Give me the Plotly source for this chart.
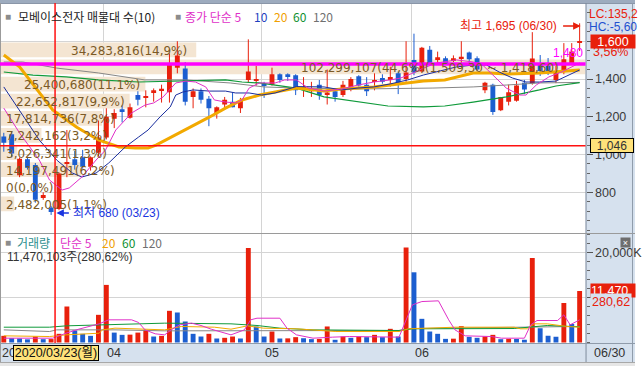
import datetime
import plotly.graph_objects as go

W, H = 642, 366

# ---------------- data ----------------
dates = ["03/13", "03/16", "03/17", "03/18", "03/19", "03/20", "03/23", "03/24", "03/25", "03/26", "03/27", "03/30", "03/31",
         "04/01", "04/02", "04/03", "04/06", "04/07", "04/08", "04/09", "04/10", "04/13", "04/14", "04/16", "04/17", "04/20",
         "04/21", "04/22", "04/23", "04/24", "04/27", "04/28", "04/29",
         "05/04", "05/06", "05/07", "05/08", "05/11", "05/12", "05/13", "05/14", "05/15", "05/18", "05/19", "05/20", "05/21",
         "05/22", "05/25", "05/26", "05/27", "05/28", "05/29",
         "06/01", "06/02", "06/03", "06/04", "06/05", "06/08", "06/09", "06/10", "06/11", "06/12", "06/15", "06/16", "06/17",
         "06/18", "06/19", "06/22", "06/23", "06/24", "06/25", "06/26", "06/29", "06/30"]
year = 2020

open_ = [1095, 1108, 890, 975, 945, 775, 720, 712, 950, 975, 985, 935, 1010,
         1090, 1190, 1240, 1195, 1315, 1300, 1330, 1340, 1330, 1460, 1455, 1305, 1335, 1295, 1220, 1265, 1280, 1245, 1395, 1390,
         1375, 1370, 1425, 1425, 1420, 1350, 1335, 1370, 1320, 1335, 1315, 1345, 1415, 1370, 1385, 1405, 1395, 1430, 1400,
         1500, 1440, 1555, 1500, 1510, 1500, 1510, 1540, 1510, 1340, 1370, 1235, 1280, 1285, 1380, 1378, 1475, 1470, 1395, 1445, 1485, 1595]
high = [1115, 1118, 985, 985, 955, 800, 728, 905, 1130, 1020, 1025, 990, 1180,
        1245, 1240, 1260, 1270, 1335, 1340, 1350, 1370, 1535, 1600, 1490, 1350, 1350, 1310, 1255, 1305, 1330, 1300, 1610, 1470,
        1385, 1460, 1430, 1430, 1425, 1410, 1385, 1395, 1450, 1340, 1390, 1410, 1420, 1410, 1430, 1425, 1465, 1440, 1600,
        1640, 1570, 1575, 1545, 1520, 1525, 1600, 1545, 1520, 1385, 1375, 1305, 1370, 1390, 1395, 1648, 1527, 1511, 1469, 1590, 1590, 1695]
low = [1015, 985, 880, 920, 745, 760, 680, 705, 880, 920, 925, 915, 990,
       1080, 1140, 1170, 1190, 1260, 1250, 1280, 1275, 1275, 1430, 1260, 1245, 1270, 1150, 1190, 1245, 1250, 1220, 1380, 1365,
       1300, 1365, 1380, 1390, 1315, 1305, 1305, 1290, 1265, 1280, 1305, 1335, 1360, 1310, 1340, 1375, 1360, 1320, 1385,
       1420, 1435, 1470, 1485, 1475, 1490, 1485, 1485, 1440, 1325, 1210, 1230, 1260, 1280, 1320, 1370, 1416, 1421, 1378, 1425, 1480, 1548]
close = [1062, 1005, 978, 930, 760, 785, 695, 900, 960, 945, 935, 985, 1090,
         1200, 1220, 1225, 1250, 1290, 1305, 1340, 1348, 1485, 1525, 1280, 1335, 1290, 1245, 1250, 1290, 1250, 1285, 1440, 1395,
         1365, 1425, 1395, 1410, 1340, 1355, 1350, 1315, 1328, 1305, 1370, 1400, 1365, 1335, 1395, 1385, 1410, 1380, 1435,
         1435, 1565, 1480, 1515, 1485, 1510, 1518, 1505, 1450, 1380, 1225, 1305, 1330, 1365, 1345, 1508, 1442, 1442, 1432, 1505, 1545, 1600]
# volume in thousand shares
volume_k = [1480, 960, 900, 700, 1330, 740, 760, 1930, 8000, 2670, 1930, 1480, 6150, 12800, 2200, 1700, 1750, 2200, 2800, 1330,
            1480, 7040, 6670, 4670, 1930, 1330, 1930, 890, 1040, 1330, 890, 21000, 3560, 1330, 2440, 890, 920, 1190, 950, 750,
            800, 3560, 600, 1330, 1040, 1330, 1190, 1700, 1190, 3040, 1330, 21100, 15600, 5260, 2440, 1930, 810, 850, 3630, 1260,
            1040, 1330, 1700, 740, 810, 780, 600, 18800, 3190, 1480, 1260, 8800, 4087.4, 11470.103]

# price moving averages (x = candle position)
ma5_x = [0, 2, 4.5, 5.8, 7.4, 8.3, 9.9, 11.7, 12.9, 14.2, 16.2, 17.9, 19, 20.2, 21.8, 23.1, 24.3, 25.6, 26.7, 28.1, 29.4, 30.2,
         31.1, 32.4, 34.4, 35.6, 37.1, 38.6, 40.6, 42.8, 44.9, 46.9, 49, 50.3, 51.9, 53.2, 54.9, 55.9, 57.4, 59.5, 60.7, 62,
         63.7, 65.4, 66.2, 67.5, 69.1, 70.7, 72, 73]
ma5 = [1246, 1114, 971, 865, 812, 823, 881, 971, 1024, 1130, 1220, 1262, 1273, 1305, 1379, 1389, 1384, 1358, 1289, 1278, 1273,
       1289, 1352, 1379, 1379, 1395, 1395, 1352, 1336, 1347, 1368, 1384, 1395, 1405, 1432, 1458, 1485, 1490, 1501, 1490, 1474,
       1421, 1352, 1315, 1315, 1368, 1411, 1437, 1464, 1485]
ma10_x = [0, 2, 4.5, 6.7, 8.7, 9.9, 11.7, 13.3, 15.4, 17.1, 18.3, 19.8, 21.1, 21.8, 22.7, 24, 26.1, 28.1, 29.4, 31.1, 32.7,
          34.4, 37.1, 40.6, 42.8, 44.9, 46.9, 49, 51.2, 53.2, 55.9, 57.4, 59.5, 61.2, 62.8, 64.5, 66.2, 67.9, 70, 71.2, 72.5, 73]
ma10 = [1358, 1236, 1077, 971, 902, 881, 902, 955, 1040, 1093, 1130, 1199, 1252, 1315, 1331, 1342, 1336, 1336, 1326, 1326, 1315,
        1326, 1360, 1358, 1342, 1352, 1358, 1374, 1395, 1421, 1448, 1464, 1474, 1474, 1437, 1405, 1384, 1384, 1389, 1411, 1437, 1448]
ma20_x = [0, 2, 6.2, 9.2, 12, 14.6, 16.7, 18.3, 19.3, 21.8, 24, 26.1, 28.1, 30.2, 32.4, 34.4, 37.1, 40.6, 42.8, 46.9, 49, 51.2,
          53.2, 55.9, 57.4, 59.5, 61.6, 63.7, 67.9, 70, 73]
ma20 = [1527, 1464, 1236, 1146, 1077, 1040, 1035, 1035, 1050, 1104, 1151, 1199, 1246, 1289, 1315, 1331, 1352, 1336, 1347, 1358,
        1368, 1379, 1389, 1395, 1411, 1432, 1432, 1426, 1432, 1437, 1448]
ma60_x = [0, 3.7, 7.9, 12, 17.1, 21.8, 28.1, 30.2, 32.4, 34.4, 37.1, 40.6, 44.9, 48.7, 53.2, 55.9, 59.5, 63.7, 67.9, 70, 73]
ma60 = [1437, 1421, 1411, 1395, 1384, 1389, 1395, 1384, 1379, 1368, 1352, 1305, 1278, 1257, 1252, 1257, 1278, 1305, 1342, 1363, 1381]
ma120_x = [0, 2.4, 6.7, 12, 17.9, 23, 28.7, 33, 37.1, 44.9, 54.4, 59.5, 63.7, 67.9, 73]
ma120 = [1490, 1490, 1458, 1432, 1395, 1395, 1379, 1358, 1352, 1347, 1352, 1358, 1368, 1379, 1382]

# volume moving averages (thousand shares)
vma5_x = [0, 6.2, 7.9, 9.5, 12.1, 13.3, 16.2, 17.1, 17.9, 19.2, 20.4, 21.2, 22.3, 23.8, 25, 26.3, 28.8, 30.5, 31.3, 32.1, 35,
          35.9, 37.1, 39.2, 41.7, 43.8, 50.1, 50.5, 51.8, 53, 55.1, 56.4, 57.2, 58.5, 61.8, 63.1, 66, 66.8, 67.6, 70.2, 71, 71.8, 73]
vma5 = [960, 960, 2070, 2960, 4150, 5040, 5040, 4440, 2810, 1930, 1700, 2810, 3930, 4300, 3780, 2960, 1700, 2810, 5040, 5400,
        5400, 3190, 1700, 960, 1190, 1330, 1190, 2810, 8370, 9100, 9260, 5040, 2810, 1480, 1330, 960, 960, 3930, 4890, 4890,
        6150, 3930, 5040]
vma20_x = [0, 5.8, 7.9, 12.1, 12.5, 14.1, 20.4, 22.5, 26.7, 28.8, 30.9, 32.9, 37.1, 39.2, 42.1, 50.1, 51.3, 57.2, 64.7, 65.5,
           66.4, 67.2, 68.9, 71.4, 73]
vma20 = [1480, 1330, 1700, 2070, 2810, 3190, 2810, 3560, 3400, 2960, 3700, 3190, 3040, 2810, 2440, 2440, 3040, 3400, 3400, 3040,
         3040, 4150, 4150, 3560, 3400]
vma60_x = [0, 5.8, 7.9, 12.9, 20.4, 28.8, 32.1, 35, 39.2, 50.1, 51.8, 64.7, 68.9, 73]
vma60 = [3400, 3400, 3700, 3930, 4300, 4150, 3780, 3190, 2810, 2670, 3040, 3110, 3780, 3480]
vma120_x = [0, 5.8, 6.7, 14.1, 20.4, 39.2, 50.1, 51.8, 68.9, 73]
vma120 = [2810, 2440, 2810, 2810, 2590, 2590, 2670, 3110, 3400, 3560]

# volume profile (매물대), top band first
band_volume = [34283816, 102299107, 25400680, 22652817, 17814736, 7242162, 3026341, 14197491, 0, 2482005]
band_top, band_bottom = 1600.0, 693.0

user_hline = 1480
ref_hline = 1046
cursor_date = "03/23"

# ---------------- styling ----------------
RED = "#E8200C"
BLUE = "#1C5ED0"
C_MA5 = "#E030C8"
C_MA10 = "#1A2E9E"
C_MA20 = "#F2A900"
C_MA60 = "#0F9A3A"
C_MA120 = "#868686"
GRID = "#D4D4D4"
AXBG = "#D6E1EE"
BEIGE = "#F4E5D2"
NUM = "Liberation Sans, Noto Sans CJK KR, sans-serif"
KR = "Noto Sans CJK KR, sans-serif"
BANDF = "DejaVu Sans, sans-serif"

PLOT_R = 592
PRICE_TOP, PRICE_BOT = 3, 233
VOL_TOP, VOL_BOT = 234, 343
price_range = [584.4, 1802.5]
vol_range = [-111, 24111]
x_range = [-0.48, 73.75]


def fx(p):
    return p / W


def fy(p):
    return 1 - p / H


n = len(dates)
idx = list(range(n))

fig = go.Figure()

# volume profile bands (main subplot, drawn below candles)
step = (band_top - band_bottom) / len(band_volume)
band_center = [band_top - step * (k + 0.5) for k in range(len(band_volume))]
fig.add_trace(go.Bar(x=band_volume, y=band_center, orientation="h", width=step * 0.86, base=0,
                     marker=dict(color=BEIGE, line=dict(width=0)), xaxis="x", yaxis="y", hoverinfo="skip"))

# candles
up = [i for i in idx if close[i] >= open_[i]]
dn = [i for i in idx if close[i] < open_[i]]


def wick(ids, color):
    xs, ys = [], []
    for i in ids:
        xs += [i, i, None]
        ys += [low[i], high[i], None]
    return go.Scatter(x=xs, y=ys, mode="lines", line=dict(color=color, width=1), xaxis="x2", yaxis="y",
                      hoverinfo="skip")


def body(ids, color):
    return go.Bar(x=ids, y=[max(abs(close[i] - open_[i]), 5) for i in ids],
                  base=[min(open_[i], close[i]) for i in ids], width=0.62,
                  marker=dict(color=color, line=dict(width=0)), xaxis="x2", yaxis="y", hoverinfo="skip")


fig.add_trace(body(up, RED))
fig.add_trace(body(dn, BLUE))
fig.add_trace(wick(up, RED))
fig.add_trace(wick(dn, BLUE))

for xs, ys, col, w in [(ma120_x, ma120, C_MA120, 1), (ma60_x, ma60, C_MA60, 1.2), (ma20_x, ma20, C_MA20, 3),
                       (ma10_x, ma10, C_MA10, 1), (ma5_x, ma5, C_MA5, 1)]:
    fig.add_trace(go.Scatter(x=xs, y=ys, mode="lines", line=dict(color=col, width=w), xaxis="x2", yaxis="y",
                             hoverinfo="skip"))

# volume
vcol = [RED if (i == 0 or volume_k[i] >= volume_k[i - 1]) else BLUE for i in idx]
fig.add_trace(go.Bar(x=idx, y=volume_k, width=0.62, marker=dict(color=vcol, line=dict(width=0)),
                     xaxis="x3", yaxis="y2", hoverinfo="skip"))
for xs, ys, col in [(vma120_x, vma120, C_MA120), (vma60_x, vma60, C_MA60), (vma20_x, vma20, C_MA20),
                    (vma5_x, vma5, C_MA5)]:
    fig.add_trace(go.Scatter(x=xs, y=ys, mode="lines", line=dict(color=col, width=1), xaxis="x3", yaxis="y2",
                             hoverinfo="skip"))

# month boundaries
month_starts = [i for i in idx if i > 0 and dates[i][:2] != dates[i - 1][:2]]
month_grid = [m - 0.3 for m in month_starts]

# ---------------- shapes ----------------
shapes = []


def rect(x0, y0, x1, y1, color, layer="below"):
    shapes.append(dict(type="rect", xref="paper", yref="paper", x0=fx(x0), x1=fx(x1), y0=fy(y1), y1=fy(y0),
                       fillcolor=color, line=dict(width=0), layer=layer))


def pline(x0, y0, x1, y1, color, width=1, layer="above"):
    shapes.append(dict(type="line", xref="paper", yref="paper", x0=fx(x0), x1=fx(x1), y0=fy(y0), y1=fy(y1),
                       line=dict(color=color, width=width), layer=layer))


rect(0, 0, W, 3, "#9DABBE")
rect(PLOT_R, 3, W, VOL_BOT, AXBG)
rect(0, VOL_BOT, W, 362, AXBG)
rect(0, 362, W, H, "#E6E6E6")
pline(0, 362.5, W, 362.5, "#A8A8A8")
pline(0, 3.5, W, 3.5, "#8A96A8")
pline(PLOT_R + 0.5, 3, PLOT_R + 0.5, 362, "#7F8C9C")
pline(0, 233.5, W, 233.5, "#9A9A9A")
pline(0, VOL_BOT + 0.5, W, VOL_BOT + 0.5, "#8F9BAA")
pline(0.5, 3, 0.5, 362, "#9A9A9A")
pline(W - 2.5, 3, W - 2.5, 362, "#8F9BAA")

# horizontal reference lines
shapes.append(dict(type="line", xref="paper", yref="y", x0=0, x1=fx(PLOT_R), y0=ref_hline, y1=ref_hline,
                   line=dict(color="#FF1010", width=1.5)))
shapes.append(dict(type="line", xref="paper", yref="y", x0=0, x1=fx(PLOT_R), y0=user_hline, y1=user_hline,
                   line=dict(color="#FF00FF", width=3.5)))
# cursor line
ci = dates.index(cursor_date)
shapes.append(dict(type="line", xref="x2", yref="paper", x0=ci + 0.5, x1=ci + 0.5, y0=fy(VOL_BOT), y1=fy(PRICE_TOP),
                   line=dict(color="#FF1010", width=1.5)))

# ---------------- annotations ----------------
ann = []


def A(x, y, text, color="#333333", size=12, family=NUM, xanchor="left", yanchor="middle", **kw):
    d = dict(x=fx(x), y=fy(y), xref="paper", yref="paper", text=text, showarrow=False,
             font=dict(color=color, size=size, family=family), xanchor=xanchor, yanchor=yanchor)
    d.update(kw)
    ann.append(d)


def comma_dec(v, nd):
    return f"{v:,.{nd}f}".replace(".", "#").replace("#", ",")


# legends
A(3, 16, "■", "#8C8C8C", 10)
A(16, 16, "모베이스전자 매물대 수(10)", "#222222", 12, KR)
A(175, 16, "■", "#8C8C8C", 10)
A(185, 16, "종가 단순 5", C_MA5, 12, KR)
A(255, 16, "10", "#1F3FBF", 12, KR)
A(275, 16, "20", "#F0A000", 12, KR)
A(294, 16, "60", "#109030", 12, KR)
A(314, 16, "120", "#707070", 12, KR)

A(3, 243, "■", "#8C8C8C", 10)
A(15, 243, "거래량", "#2D8F8F", 12, KR)
A(59, 243, "단순 5", C_MA5, 12, KR)
A(101, 243, "20", "#F0A000", 12, KR)
A(121, 243, "60", "#109030", 12, KR)
A(142, 243, "120", "#707070", 12, KR)
last_vol_shares = round(volume_k[-1] * 1000)
vol_ratio = volume_k[-1] / volume_k[-2] * 100
A(5, 257, f"{last_vol_shares:,}주({comma_dec(vol_ratio, 2)}%)", "#333333", 12, NUM)

# band labels
total_band = sum(band_volume)
band_label_x = [70, 302, 22, 14, 4, 4, 4, 4, 4, 4]
imax = band_volume.index(max(band_volume))
for k, v in enumerate(band_volume):
    txt = f"{v:,}({comma_dec(v / total_band * 100, 1)}%)"
    if k == imax:
        hi_b = band_top - step * k
        lo_b = hi_b - step
        txt += f"({comma_dec(hi_b, 2)} ~ {comma_dec(lo_b, 2)})"
    ann.append(dict(x=fx(band_label_x[k]), y=band_center[k], xref="paper", yref="y", text=txt, showarrow=False,
                    font=dict(color="#7B5A26", size=12, family=BANDF), xanchor="left", yanchor="middle", yshift=-1))

# high / low markers
ih = high.index(max(high))
il = low.index(min(low))
A(463, 26, f"최고 {max(high):,} ({dates[ih]})", RED, 12, NUM)
ann.append(dict(x=fx(587), y=fy(26), xref="paper", yref="paper", text="", showarrow=True, ax=-19, ay=0,
                arrowhead=2, arrowsize=1, arrowwidth=1.5, arrowcolor=RED))
A(72, 213, f"최저 {min(low):,} ({dates[il]})", "#1A35E0", 12, NUM)
ann.append(dict(x=fx(57), y=fy(213), xref="paper", yref="paper", text="", showarrow=True, ax=14, ay=0,
                arrowhead=2, arrowsize=1, arrowwidth=1.5, arrowcolor="#1A35E0"))

# right axis info (the panel only has room for the first 8 characters, as in the original)
last = close[-1]
A(593, 14, f"LC:{comma_dec((last / min(low) - 1) * 100, 2)}%"[:8], RED, 12)
A(593, 27, f"HC:{comma_dec((last / max(high) - 1) * 100, 2)}%"[:8], "#1E50D0", 12)
ann.append(dict(x=fx(596), y=last, xref="paper", yref="y", text=f"{last:,}", showarrow=False, xanchor="left",
                yanchor="middle", bgcolor=RED, font=dict(color="white", size=12.5, family=NUM), width=44, height=13,
                borderpad=0, align="center"))
A(598, 52, f"{comma_dec((last / close[-2] - 1) * 100, 2)}%", RED, 12.5)
ann.append(dict(x=fx(596), y=ref_hline, xref="paper", yref="y", text=f"{ref_hline:,}", showarrow=False,
                xanchor="left", yanchor="middle", bgcolor="#FFE27A", bordercolor="#000000", borderwidth=1,
                font=dict(color="#333333", size=12, family=NUM), width=42, height=13, borderpad=0, align="center"))
ann.append(dict(x=fx(PLOT_R - 1), y=user_hline, xref="paper", yref="y", text=f"{user_hline:,}", showarrow=False,
                xanchor="right", yanchor="bottom", yshift=2, font=dict(color="#FF00FF", size=12, family=NUM)))
ann.append(dict(x=fx(596), y=volume_k[-1], xref="paper", yref="y2", text=f"{round(volume_k[-1]):,}",
                showarrow=False, xanchor="left", yanchor="middle", bgcolor=RED,
                font=dict(color="white", size=12.5, family=NUM), width=44, height=13, borderpad=0, align="left"))
ann.append(dict(x=fx(596), y=volume_k[-1], xref="paper", yref="y2", text=comma_dec(vol_ratio, 2), showarrow=False,
                xanchor="left", yanchor="middle", yshift=-11, bgcolor=AXBG,
                font=dict(color=RED, size=12.5, family=NUM)))
A(632, 243, "×", "white", 9, NUM, xanchor="center", bgcolor="#6E6E6E", width=9, height=9, borderpad=0)

# date row
A(0, 353, f"{year}"[:2], "#333333", 12.5)
wd = "월화수목금토일"[datetime.date(year, int(cursor_date[:2]), int(cursor_date[3:])).weekday()]
A(13, 353, f"{year}/{cursor_date}({wd})", "#111111", 12.5, NUM, bgcolor="#FFE27A", bordercolor="#000000",
  borderwidth=1, width=84, height=14, borderpad=0, align="center")
for m in month_starts:
    ann.append(dict(x=m - 0.3, y=fy(353), xref="x2", yref="paper", text=dates[m][:2], showarrow=False,
                    xanchor="left", yanchor="middle", xshift=1, font=dict(color="#333333", size=12.5, family=NUM)))
A(599, 353, dates[-1], "#333333", 12.5)

# ---------------- layout ----------------
dom_x = [0, fx(PLOT_R)]
fig.update_layout(
    width=W, height=H, margin=dict(l=0, r=0, t=0, b=0), paper_bgcolor="white", plot_bgcolor="white",
    showlegend=False, barmode="overlay", shapes=shapes, annotations=ann,
    font=dict(family=NUM, size=12, color="#333333"),
    xaxis=dict(domain=dom_x, range=[0, max(band_volume)], visible=False, fixedrange=True, anchor="y"),
    xaxis2=dict(overlaying="x", anchor="y", range=x_range, showticklabels=False, ticks="", showgrid=True,
                gridcolor=GRID, gridwidth=1, tickvals=month_grid, zeroline=False, showline=False),
    xaxis3=dict(domain=dom_x, anchor="y2", range=x_range, showticklabels=False, ticks="", showgrid=True,
                gridcolor=GRID, gridwidth=1, tickvals=month_grid, zeroline=False, showline=False),
    yaxis=dict(domain=[fy(PRICE_BOT), fy(PRICE_TOP)], range=price_range, anchor="x", side="right",
               tickvals=[800, 1000, 1200, 1400, 1600], ticktext=["800", "1,000", "1,200", "1,400", ""],
               showgrid=True, gridcolor=GRID, zeroline=False, ticks="outside", ticklen=6, tickcolor="#555555",
               tickfont=dict(size=12.5, color="#3A3A3A", family=NUM),
               minor=dict(dtick=50, tick0=0, ticklen=3, ticks="outside", tickcolor="#666666", showgrid=False)),
    yaxis2=dict(domain=[fy(VOL_BOT), fy(VOL_TOP)], range=vol_range, anchor="x3", side="right",
                tickvals=[10000, 20000], ticktext=["", "20,000K"], showgrid=True, gridcolor=GRID,
                zeroline=False, ticks="outside", ticklen=6, tickcolor="#555555",
                tickfont=dict(size=12.5, color="#3A3A3A", family=NUM),
                minor=dict(dtick=2000, tick0=0, ticklen=3, ticks="outside", tickcolor="#666666", showgrid=False)),
)

fig.write_html("out.html", config={"displayModeBar": False})
